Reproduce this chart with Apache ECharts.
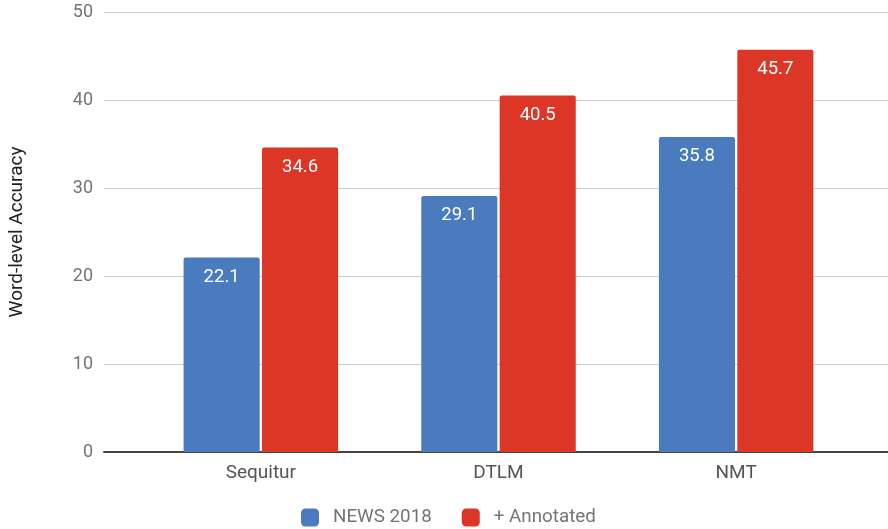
<!DOCTYPE html>
<html><head><meta charset="utf-8">
<script src="https://cdn.jsdelivr.net/npm/echarts@6/dist/echarts.min.js"></script>
<style>html,body{margin:0;padding:0;background:#fff}#c{width:888px;height:529px}</style>
</head><body><div id="c"></div>
<script>
const categories = ['Sequitur', 'DTLM', 'NMT'];
const news2018 = [22.1, 29.1, 35.8];
const annotated = [34.6, 40.5, 45.7];
const seriesNames = ['NEWS 2018', '+ Annotated'];
const yTicks = [0, 10, 20, 30, 40, 50];

const FONT = 'Roboto';
const chart = echarts.init(document.getElementById('c'), null, {renderer: 'canvas'});
const lbl = {show: true, position: 'insideTop', distance: 10, color: '#fff', fontSize: 18.5, fontFamily: FONT};
chart.setOption({
  animation: false,
  textStyle: {fontFamily: FONT},
  grid: [
    {left: 101, right: 0, top: 12, bottom: 77},
    {left: 142, right: 33, top: 12, bottom: 77}
  ],
  legend: {
    top: 508, left: 301, itemWidth: 18, itemHeight: 18, itemGap: 30, padding: 0,
    icon: 'roundRect',
    textStyle: {color: '#757575', fontSize: 18.8, fontFamily: FONT, padding: [0, 0, 0, 9]},
    data: seriesNames
  },
  xAxis: [
    {gridIndex: 0, type: 'value', min: 0, max: 1, axisLine: {show: true, onZero: false, lineStyle: {color: '#444', width: 2}},
     axisTick: {show: false}, axisLabel: {show: false}, splitLine: {show: false}},
    {gridIndex: 1, type: 'category', data: categories, axisLine: {show: false}, axisTick: {show: false},
     axisLabel: {color: '#555', fontSize: 19, fontFamily: FONT, margin: 12}}
  ],
  yAxis: [
    {gridIndex: 0, type: 'value', min: yTicks[0], max: yTicks[yTicks.length - 1], interval: 10,
     axisLine: {show: false}, axisTick: {show: false},
     axisLabel: {color: '#757575', fontSize: 18, fontFamily: FONT, margin: 11},
     splitLine: {lineStyle: {color: '#cccccc', width: 1}},
     name: 'Word-level Accuracy', nameLocation: 'middle', nameGap: 77,
     nameTextStyle: {color: '#222', fontSize: 19, fontFamily: FONT}},
    {gridIndex: 1, type: 'value', min: 0, max: 50, show: false}
  ],
  series: [
    {name: seriesNames[0], type: 'bar', xAxisIndex: 1, yAxisIndex: 1, data: news2018,
     barCategoryGap: '35%', barGap: '3%', itemStyle: {color: '#4a7bbf', borderRadius: [2, 2, 0, 0]}, label: lbl},
    {name: seriesNames[1], type: 'bar', xAxisIndex: 1, yAxisIndex: 1, data: annotated,
     barCategoryGap: '35%', barGap: '3%', itemStyle: {color: '#db3626', borderRadius: [2, 2, 0, 0]}, label: lbl}
  ]
});
</script></body></html>
